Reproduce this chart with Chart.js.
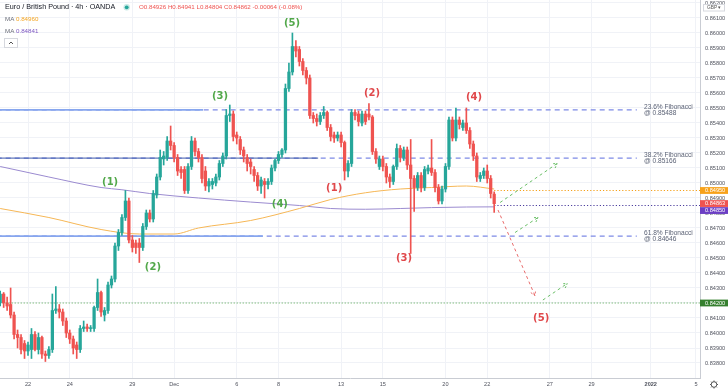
<!DOCTYPE html>
<html><head><meta charset="utf-8">
<script src="https://cdn.jsdelivr.net/npm/chart.js@4.4.1/dist/chart.umd.min.js"></script>
<style>html,body{margin:0;padding:0;background:#fff;overflow:hidden}#wrap{width:728px;height:391px;position:relative}canvas{display:block}</style>
</head><body><div id="wrap"><canvas id="c" width="728" height="391"></canvas></div>
<script>
// ---- candle data (4h EUR/GBP, one entry per candle) ----
const opens=[
0.8420,0.8426,0.8420,0.8419,0.8412,0.8399,0.8397,0.8393,0.8388,0.8389,
0.8399,0.8389,0.8397,0.8386,0.8385,0.8389,0.8415,0.8416,0.8414,0.8408,
0.8400,0.8396,0.8392,0.8389,0.8403,0.8404,0.8403,0.8403,0.8417,0.8427,
0.8412,0.8415,0.8432,0.8436,0.8458,0.8467,0.8477,0.8488,0.8462,0.8460,
0.8460,0.8457,0.8471,0.8480,0.8476,0.8492,0.8504,0.8516,0.8517,0.8528,
0.8525,0.8517,0.8509,0.8509,0.8495,0.8511,0.8528,0.8521,0.8517,0.8508,
0.8498,0.8499,0.8500,0.8504,0.8513,0.8518,0.8545,0.8546,0.8532,0.8529,
0.8522,0.8517,0.8514,0.8509,0.8505,0.8498,0.8501,0.8499,0.8501,0.8510,
0.8515,0.8519,0.8522,0.8563,0.8574,0.8591,0.8589,0.8581,0.8575,0.8570,
0.8545,0.8543,0.8541,0.8545,0.8547,0.8537,0.8532,0.8530,0.8532,0.8527,
0.8508,0.8513,0.8547,0.8546,0.8540,0.8546,0.8546,0.8544,0.8521,0.8511,
0.8516,0.8511,0.8504,0.8501,0.8511,0.8523,0.8517,0.8522,0.8512,0.8503,
0.8497,0.8505,0.8497,0.8508,0.8510,0.8507,0.8497,0.8488,0.8496,0.8511,
0.8542,0.8530,0.8542,0.8537,0.8540,0.8535,0.8526,0.8518,0.8503,0.8505,
0.8508,0.8503,0.84926];
const highs=[
0.8428,0.8427,0.8424,0.8430,0.8414,0.8402,0.8399,0.8395,0.8394,0.8403,
0.8401,0.8400,0.8398,0.8388,0.8391,0.8426,0.8431,0.8419,0.8416,0.8410,
0.8402,0.8398,0.8394,0.8405,0.8408,0.8406,0.8405,0.8418,0.8436,0.8428,
0.8417,0.8434,0.8438,0.8460,0.8469,0.8479,0.8495,0.8490,0.8465,0.8462,
0.8463,0.8473,0.8482,0.8482,0.8495,0.8506,0.8522,0.8521,0.8531,0.8538,
0.8527,0.8519,0.8511,0.8511,0.8513,0.8531,0.8530,0.8523,0.8519,0.8511,
0.8503,0.8503,0.8506,0.8515,0.8520,0.8549,0.8552,0.8548,0.8534,0.8531,
0.8524,0.8519,0.8516,0.8511,0.8507,0.8504,0.8503,0.8503,0.8512,0.8516,
0.8521,0.8523,0.8566,0.8580,0.8600,0.8595,0.8591,0.8583,0.8577,0.8572,
0.8547,0.8546,0.8547,0.8551,0.8548,0.8539,0.8534,0.8534,0.8534,0.8528,
0.8515,0.8549,0.8549,0.8548,0.8548,0.8548,0.8553,0.8545,0.8523,0.8518,
0.8518,0.8513,0.8506,0.8512,0.8526,0.8525,0.8524,0.8524,0.8529,0.8505,
0.8507,0.8507,0.8511,0.8512,0.8529,0.8509,0.8499,0.8498,0.8513,0.8544,
0.8544,0.8550,0.8544,0.8542,0.8550,0.8537,0.8528,0.8520,0.8507,0.8510,
0.8512,0.8505,0.84941];
const lows=[
0.8418,0.8417,0.8415,0.8410,0.8396,0.8390,0.8386,0.8383,0.8385,0.8383,
0.8388,0.8386,0.8383,0.8381,0.8383,0.8387,0.8413,0.8410,0.8405,0.8397,
0.8393,0.8386,0.8383,0.8387,0.8401,0.8401,0.8401,0.8401,0.8415,0.8411,
0.8408,0.8413,0.8430,0.8434,0.8455,0.8465,0.8475,0.8460,0.8454,0.8453,
0.8447,0.8455,0.8469,0.8474,0.8474,0.8490,0.8502,0.8512,0.8515,0.8522,
0.8514,0.8505,0.8503,0.8493,0.8493,0.8509,0.8518,0.8514,0.8500,0.8495,
0.8494,0.8496,0.8498,0.8502,0.8511,0.8516,0.8541,0.8528,0.8526,0.8519,
0.8514,0.8508,0.8506,0.8501,0.8495,0.8493,0.8490,0.8496,0.8499,0.8508,
0.8513,0.8517,0.8520,0.8561,0.8572,0.8584,0.8578,0.8572,0.8566,0.8543,
0.8540,0.8538,0.8539,0.8543,0.8535,0.8528,0.8527,0.8528,0.8524,0.8502,
0.8504,0.8511,0.8542,0.8538,0.8538,0.8539,0.8542,0.8519,0.8513,0.8509,
0.8508,0.8500,0.8497,0.8499,0.8509,0.8514,0.8515,0.8509,0.8453,0.8481,
0.8495,0.8494,0.8495,0.8506,0.8505,0.8494,0.8486,0.8486,0.8494,0.8509,
0.8528,0.8528,0.8536,0.8535,0.8533,0.8523,0.8515,0.8501,0.8501,0.8503,
0.8500,0.8490,0.84804];
const closes=[
0.8426,0.8420,0.8418,0.8412,0.8399,0.8397,0.8389,0.8388,0.8392,0.8399,
0.8389,0.8397,0.8386,0.8385,0.8389,0.8415,0.8416,0.8414,0.8408,0.8400,
0.8396,0.8390,0.8389,0.8403,0.8404,0.8403,0.8403,0.8417,0.8427,0.8414,
0.8415,0.8432,0.8436,0.8458,0.8467,0.8477,0.8488,0.8462,0.8457,0.8457,
0.8457,0.8471,0.8480,0.8476,0.8493,0.8504,0.8517,0.8518,0.8528,0.8525,
0.8517,0.8508,0.8507,0.8495,0.8511,0.8528,0.8521,0.8517,0.8503,0.8498,
0.8501,0.8501,0.8504,0.8513,0.8518,0.8545,0.8546,0.8531,0.8530,0.8522,
0.8518,0.8513,0.8511,0.8505,0.8498,0.8502,0.8499,0.8501,0.8510,0.8515,
0.8519,0.8522,0.8563,0.8574,0.8591,0.8588,0.8581,0.8575,0.8570,0.8545,
0.8543,0.8541,0.8545,0.8547,0.8537,0.8531,0.8530,0.8532,0.8527,0.8508,
0.8513,0.8547,0.8545,0.8541,0.8546,0.8541,0.8544,0.8521,0.8516,0.8516,
0.8511,0.8504,0.8501,0.8511,0.8523,0.8517,0.8522,0.8512,0.8503,0.8497,
0.8505,0.8497,0.8509,0.8510,0.8507,0.8497,0.8488,0.8496,0.8511,0.8542,
0.8530,0.8542,0.8539,0.8540,0.8535,0.8526,0.8518,0.8504,0.8505,0.8508,
0.8503,0.8493,0.84862];

// ---- moving averages (read at sample candles) ----
const maOrangeX=[0,14,29,40,50,57,72,86,95,105,115,124,134,142];
const maOrangeY=[0.8483,0.8477,0.8469,0.8466,0.8466,0.8470,0.8475,0.8483,0.8489,0.84935,0.8496,0.8497,0.8498,0.8496];
const maPurpleX=[0,14,29,35,43,57,72,86,95,105,115,124,134,142];
const maPurpleY=[0.8511,0.8504,0.8497,0.84955,0.8493,0.8490,0.84873,0.8485,0.8483,0.84825,0.8483,0.84836,0.8484,0.84841];

// ---- axis ticks ----
const xTickPos=[8,20,38,50,68,80,98,110,128,140,158,170,187,200];
const xTickLabels=['22','24','29','Dec','6','8','13','15','20','22','27','29','2022','5'];
const yTickFirst=838, yTickLast=862; // in 1/1000
const yMin=0.837, yMax=0.8622, xMin=-0.05, xMax=201.16;

// ---- levels ----
const fibNames=['23.6% Fibonacci','38.2% Fibonacci','61.8% Fibonacci'];
const fibValues=[0.85488,0.85166,0.84646];
const fibSolidEnd=[58.3,91.4,75.5];
const fibDashEnd=183;
const maOrangeLast=0.84950, maPurpleLast=0.84850, lastPrice=0.84863, targetLevel=0.84200;

// ---- wave labels ----
const waveText=['(1)','(2)','(3)','(4)','(5)'];
const greenWaveX=[31.6,43.9,63.2,80.4,83.9];
const greenWaveY=[0.85007,0.8444,0.8558,0.8486,0.86067];
const redWaveX=[96,106.9,116.1,136.2,155.5];
const redWaveY=[0.84967,0.8560,0.8450,0.85573,0.8410];

// ---- projection arrows [x0,y0,x1,y1] ----
const greenArrows=[[143.7,0.8487,160.1,0.8513],[148,0.8467,154.6,0.8477],[156,0.8422,163,0.8433]];
const redArrows=[[143.1,0.8482,153.7,0.8425]];

const UP='#26a69a', DOWN='#ef5350';
const colOf=i=>closes[i]>=opens[i]?UP:DOWN;
const candleCols=opens.map((_,i)=>colOf(i));

Chart.defaults.font.family="'Liberation Sans', Arial, sans-serif";
Chart.defaults.font.size=5.6;
Chart.defaults.color='#50535e';

const hline=(v,x0,x1,color,width,dash,order)=>({type:'line',data:[{x:x0,y:v},{x:x1,y:v}],borderColor:color,borderWidth:width,borderDash:dash,pointRadius:0,fill:false,tension:0,order:order});

const datasets=[
  {type:'bar',data:opens.map((o,i)=>({x:i,y:[lows[i],highs[i]]})),backgroundColor:candleCols,barThickness:1,grouped:false,order:1},
  {type:'bar',data:opens.map((o,i)=>({x:i,y:[o,closes[i]]})),backgroundColor:candleCols,barThickness:2.6,grouped:false,minBarLength:0.8,order:0},
  {type:'line',data:maOrangeX.map((x,i)=>({x:x,y:maOrangeY[i]})),borderColor:'#f6b756',borderWidth:1,pointRadius:0,cubicInterpolationMode:'monotone',order:2},
  {type:'line',data:maPurpleX.map((x,i)=>({x:x,y:maPurpleY[i]})),borderColor:'#9b8bd0',borderWidth:1,pointRadius:0,cubicInterpolationMode:'monotone',order:2},
];
fibValues.forEach((v,k)=>{
  datasets.push(hline(v,-1,fibDashEnd,'#7d8ae6',1.2,[5,4],4));
  datasets.push(hline(v,-1,fibSolidEnd[k],k===1?'#3f5ba9':'#87a6ee',k===1?1:1.8,[],3));
});
datasets.push(hline(maOrangeLast,142,203,'#f5a01a',1,[1.2,2],3));
datasets.push(hline(maPurpleLast,142,203,'#4d3f9e',1,[1.2,2],3));
datasets.push(hline(targetLevel,-1,203,'#4fa34a',1,[1,2],3));

function arrow(ctx,x0,y0,x1,y1,color){
  ctx.save();ctx.strokeStyle=color;ctx.lineWidth=1;ctx.setLineDash([3,3]);
  ctx.beginPath();ctx.moveTo(x0,y0);ctx.lineTo(x1,y1);ctx.stroke();
  const a=Math.atan2(y1-y0,x1-x0),L=5,s=0.55;
  ctx.setLineDash([2,1.5]);
  ctx.beginPath();ctx.moveTo(x1-L*Math.cos(a-s),y1-L*Math.sin(a-s));ctx.lineTo(x1,y1);ctx.lineTo(x1-L*Math.cos(a+s),y1-L*Math.sin(a+s));ctx.stroke();
  ctx.restore();
}
function priceBox(ctx,y,text,bg,fg){
  ctx.fillStyle=bg;ctx.fillRect(700,y-3.4,28,6.8);
  ctx.fillStyle=fg;ctx.font="5.6px 'Liberation Sans', Arial";ctx.textAlign='left';ctx.textBaseline='middle';
  ctx.fillText(text,705,y+0.3);
}

const annot={
  id:'annot',
  afterDatasetsDraw(chart){
    const ctx=chart.ctx,xs=chart.scales.x,ys=chart.scales.y;
    const px=v=>xs.getPixelForValue(v),py=v=>ys.getPixelForValue(v);
    ctx.save();
    greenArrows.forEach(a=>arrow(ctx,px(a[0]),py(a[1]),px(a[2]),py(a[3]),'#6bbf68'));
    redArrows.forEach(a=>arrow(ctx,px(a[0]),py(a[1]),px(a[2]),py(a[3]),'#e86a6a'));
    ctx.font="bold 10px 'DejaVu Sans', sans-serif";ctx.textAlign='center';ctx.textBaseline='middle';
    waveText.forEach((t,i)=>{ctx.fillStyle='#52a84a';ctx.fillText(t,px(greenWaveX[i]),py(greenWaveY[i]));});
    waveText.forEach((t,i)=>{ctx.fillStyle='#e0484b';ctx.fillText(t,px(redWaveX[i]),py(redWaveY[i]));});
    ctx.font="6.6px 'Liberation Sans', Arial";ctx.textAlign='left';ctx.fillStyle='#5b6275';
    fibValues.forEach((v,k)=>{
      const y=py(v);
      ctx.fillText(fibNames[k],644,y-3);
      ctx.fillText('@ '+v.toFixed(5),644,y+3.2);
    });
    ctx.restore();
  },
  afterDraw(chart){
    const ctx=chart.ctx,ys=chart.scales.y;
    const py=v=>ys.getPixelForValue(v);
    ctx.save();
    ctx.textBaseline='middle';ctx.textAlign='left';
    ctx.font="7.2px 'Liberation Sans', Arial";ctx.fillStyle='#131722';
    ctx.fillText('Euro / British Pound · 4h · OANDA',5,7.5);
    ctx.fillStyle='rgba(38,166,154,0.25)';ctx.beginPath();ctx.arc(126.7,7.3,3.2,0,Math.PI*2);ctx.fill();
    ctx.fillStyle='#26a69a';ctx.beginPath();ctx.arc(126.7,7.3,1.9,0,Math.PI*2);ctx.fill();
    ctx.font="6.2px 'Liberation Sans', Arial";ctx.fillStyle='#ef5350';
    ctx.fillText('O0.84926 H0.84941 L0.84804 C0.84862 -0.00064 (-0.08%)',139,7.5);
    ctx.fillStyle='#6a6d78';ctx.fillText('MA',5,19.3);ctx.fillText('MA',5,31);
    ctx.fillStyle='#f5a623';ctx.fillText(maOrangeY[maOrangeY.length-1].toFixed(5),16,19.3);
    ctx.fillStyle='#7e57c2';ctx.fillText(maPurpleY[maPurpleY.length-1].toFixed(5),16,31);
    // collapse button
    ctx.fillStyle='#fff';ctx.strokeStyle='#d6d8de';ctx.lineWidth=1;
    ctx.fillRect(4.5,38.5,13,9);ctx.strokeRect(4.5,38.5,13,9);
    ctx.strokeStyle='#555';ctx.beginPath();ctx.moveTo(9,44);ctx.lineTo(11,42);ctx.lineTo(13,44);ctx.stroke();
    // price boxes
    const yRed=py(lastPrice), yPur=Math.max(py(maPurpleLast),yRed+7);
    priceBox(ctx,py(maOrangeLast),maOrangeLast.toFixed(5),'#f7a21b','#fff');
    priceBox(ctx,yRed,lastPrice.toFixed(5),'#ef5350','#fff');
    priceBox(ctx,yPur,maPurpleLast.toFixed(5),'#6c3fc4','#fff');
    priceBox(ctx,py(targetLevel),targetLevel.toFixed(5),'#36802f','#fff');
    // currency box
    ctx.fillStyle='#fff';ctx.fillRect(703,4.5,22,6.5);ctx.strokeStyle='#d6d8de';ctx.strokeRect(703.5,4.5,21,6.5);
    ctx.fillStyle='#555';ctx.font="4.8px 'Liberation Sans', Arial";ctx.fillText('GBP ▾',707,8);
    // settings gear
    ctx.strokeStyle='#555';ctx.lineWidth=1;ctx.beginPath();ctx.arc(714,384.5,2.8,0,Math.PI*2);ctx.stroke();
    for(let k=0;k<8;k++){const a=k*Math.PI/4;ctx.beginPath();ctx.moveTo(714+2.8*Math.cos(a),384.5+2.8*Math.sin(a));ctx.lineTo(714+4*Math.cos(a),384.5+4*Math.sin(a));ctx.stroke();}
    ctx.restore();
  }
};

new Chart(document.getElementById('c'),{
  type:'bar',
  data:{datasets:datasets},
  options:{
    responsive:false,animation:false,devicePixelRatio:1,
    layout:{padding:0},
    events:[],
    plugins:{legend:{display:false},tooltip:{enabled:false}},
    scales:{
      x:{type:'linear',min:xMin,max:xMax,offset:false,
        grid:{color:'#f0f2f7',drawTicks:false,offset:false},
        border:{color:'#c9ccd3'},
        afterBuildTicks:ax=>{ax.ticks=xTickPos.map(v=>({value:v}));},
        afterFit:ax=>{ax.height=13;ax.paddingLeft=0;ax.paddingRight=0;},
        ticks:{autoSkip:false,maxRotation:0,padding:3.5,color:'#50535e',
          font:c=>({size:5.6,weight:(c.tick&&c.tick.value===187)?'bold':'normal'}),
          callback:v=>{const k=xTickPos.indexOf(v);return k>=0?xTickLabels[k]:'';}}
      },
      y:{type:'linear',position:'right',min:yMin,max:yMax,
        grid:{color:'#f0f2f7',drawTicks:false},
        border:{color:'#c9ccd3'},
        afterBuildTicks:ax=>{const t=[];for(let k=yTickFirst;k<=yTickLast;k++)t.push({value:k/1000});ax.ticks=t;},
        afterFit:ax=>{ax.width=28;ax.paddingTop=0;ax.paddingBottom=0;},
        ticks:{padding:5,color:'#50535e',callback:v=>v.toFixed(5)}
      }
    }
  },
  plugins:[annot]
});
</script>
</body></html>
